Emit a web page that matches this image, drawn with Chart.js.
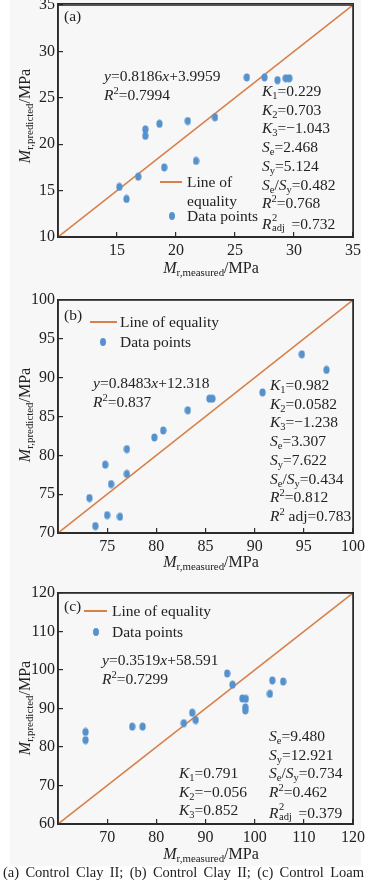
<!DOCTYPE html>
<html>
<head>
<meta charset="utf-8">
<script src="https://cdn.jsdelivr.net/npm/chart.js@4/dist/chart.umd.min.js"></script>
<style>
  body { margin: 0; width: 369px; height: 884px; background: #fff; position: relative; overflow: hidden;
         font-family: 'Liberation Serif', 'Times New Roman', serif; color: #222; }
  .bg { position: absolute; left: 10px; top: 0; width: 351px; height: 866px; background: #f7f7f7; }
  canvas { position: absolute; left: 0; }
  .box { position: absolute; box-sizing: border-box; border: 1.6px solid #2b2b2b; left: 57px; width: 297px; }
  .t { position: absolute; font-size: 15.5px; line-height: 18.7px; white-space: nowrap; }
  .t i { font-style: italic; }
  sub { font-size: 0.68em; vertical-align: -0.3em; line-height: 0; }
  sup { font-size: 0.68em; vertical-align: 0.55em; line-height: 0; }
  .ss { display: inline-block; position: relative; width: 1.3em; height: 1em; vertical-align: baseline; }
  .ss span { position: absolute; left: 0.05em; font-size: 0.68em; line-height: 1; }
  .ss .a { top: 0; }
  .ss .b { top: 0.95em; }
  .ytitle { position: absolute; font-size: 16px; white-space: nowrap; transform: translate(-50%, -50%) rotate(-90deg); }
  .xtitle { position: absolute; font-size: 16px; white-space: nowrap; transform: translate(-50%, -50%); }
  .lg-line { position: absolute; height: 2px; background: #d9804a; }
  .lg-dot { position: absolute; width: 6px; height: 8px; border-radius: 50%; background: #5591cc; }
  .cap { position: absolute; left: 3px; top: 864px; width: 361px; font-size: 14.5px; text-align: justify; text-align-last: justify; white-space: nowrap; }
</style>
</head>
<body>
<div class="bg"></div>
<canvas id="chartA" width="369" height="285" style="top:0px"></canvas>
<canvas id="chartB" width="369" height="285" style="top:290px"></canvas>
<canvas id="chartC" width="369" height="285" style="top:580px"></canvas>
<div class="box" style="top:3px;height:235px"></div>
<div class="box" style="top:299px;height:235px"></div>
<div class="box" style="top:592px;height:233px"></div>

<!-- panel (a) -->
<div class="t" style="left:64px;top:7px">(a)</div>
<div class="t" style="left:104px;top:67px"><i>y</i>=0.8186<i>x</i>+3.9959<br><i>R</i><sup>2</sup>=0.7994</div>
<div class="lg-line" style="left:160px;top:181px;width:22px"></div>
<div class="t" style="left:187px;top:173px">Line of<br>equality</div>
<div class="lg-dot" style="left:169px;top:212px"></div>
<div class="t" style="left:187px;top:207px">Data points</div>
<div class="t" style="left:262px;top:82px">
  <i>K</i><sub>1</sub>=0.229<br><i>K</i><sub>2</sub>=0.703<br><i>K</i><sub>3</sub>=&minus;1.043<br>
  <i>S</i><sub>e</sub>=2.468<br><i>S</i><sub>y</sub>=5.124<br><i>S</i><sub>e</sub>/<i>S</i><sub>y</sub>=0.482<br>
  <i>R</i><sup>2</sup>=0.768<br><i>R</i><span class="ss"><span class="a">2</span><span class="b">adj</span></span>=0.732</div>
<div class="ytitle" style="left:25px;top:116px"><i>M</i><sub>r,predicted</sub>/MPa</div>
<div class="xtitle" style="left:211px;top:268px"><i>M</i><sub>r,measured</sub>/MPa</div>

<!-- panel (b) -->
<div class="t" style="left:64px;top:306px">(b)</div>
<div class="lg-line" style="left:90px;top:321px;width:27px"></div>
<div class="t" style="left:120px;top:313px">Line of equality</div>
<div class="lg-dot" style="left:100px;top:338px"></div>
<div class="t" style="left:120px;top:333px">Data points</div>
<div class="t" style="left:93px;top:374px"><i>y</i>=0.8483<i>x</i>+12.318<br><i>R</i><sup>2</sup>=0.837</div>
<div class="t" style="left:270px;top:376px">
  <i>K</i><sub>1</sub>=0.982<br><i>K</i><sub>2</sub>=0.0582<br><i>K</i><sub>3</sub>=&minus;1.238<br>
  <i>S</i><sub>e</sub>=3.307<br><i>S</i><sub>y</sub>=7.622<br><i>S</i><sub>e</sub>/<i>S</i><sub>y</sub>=0.434<br>
  <i>R</i><sup>2</sup>=0.812<br><i>R</i><sup>2</sup> adj=0.783</div>
<div class="ytitle" style="left:25px;top:415px"><i>M</i><sub>r,predicted</sub>/MPa</div>
<div class="xtitle" style="left:211px;top:562px"><i>M</i><sub>r,measured</sub>/MPa</div>

<!-- panel (c) -->
<div class="t" style="left:64px;top:597px">(c)</div>
<div class="lg-line" style="left:84px;top:610px;width:23px"></div>
<div class="t" style="left:112px;top:602px">Line of equality</div>
<div class="lg-dot" style="left:93px;top:628px"></div>
<div class="t" style="left:112px;top:623px">Data points</div>
<div class="t" style="left:102px;top:651px"><i>y</i>=0.3519<i>x</i>+58.591<br><i>R</i><sup>2</sup>=0.7299</div>
<div class="t" style="left:269px;top:727px">
  <i>S</i><sub>e</sub>=9.480<br><i>S</i><sub>y</sub>=12.921<br><i>S</i><sub>e</sub>/<i>S</i><sub>y</sub>=0.734<br>
  <i>R</i><sup>2</sup>=0.462<br><i>R</i><span class="ss"><span class="a">2</span><span class="b">adj</span></span>=0.379</div>
<div class="t" style="left:179px;top:764px">
  <i>K</i><sub>1</sub>=0.791<br><i>K</i><sub>2</sub>=&minus;0.056<br><i>K</i><sub>3</sub>=0.852</div>
<div class="ytitle" style="left:25px;top:708px"><i>M</i><sub>r,predicted</sub>/MPa</div>
<div class="xtitle" style="left:211px;top:854px"><i>M</i><sub>r,measured</sub>/MPa</div>

<div class="cap">(a) Control Clay II; (b) Control Clay II; (c) Control Loam</div>

<script>
// (a) Control Clay II
const measuredA  = [15.2, 15.8, 16.8, 17.4, 17.4, 18.6, 19.0, 21.0, 21.7, 23.3, 26.0, 27.5, 28.6, 29.3, 29.6];
const predictedA = [15.4, 14.1, 16.5, 21.6, 20.9, 22.2, 17.5, 22.5, 18.2, 22.9, 27.2, 27.2, 26.9, 27.1, 27.1];
const xTicksA = [15, 20, 25, 30, 35];
const yTicksA = [10, 15, 20, 25, 30, 35];

// (b) Control Clay II
const measuredB  = [73.2, 73.8, 74.8, 75.0, 75.4, 76.3, 77.0, 77.0, 79.8, 80.7, 83.2, 85.4, 85.7, 90.8, 94.8, 97.3];
const predictedB = [74.5, 70.9, 78.8, 72.3, 76.3, 72.1, 80.8, 77.6, 82.3, 83.2, 85.8, 87.3, 87.3, 88.1, 93.0, 91.0];
const xTicksB = [75, 80, 85, 90, 95, 100];
const yTicksB = [70, 75, 80, 85, 90, 95, 100];

// (c) Control Loam
const measuredC  = [65.6, 65.6, 75.1, 77.2, 85.6, 87.3, 88.0, 94.4, 95.5, 97.5, 98.2, 98.1, 98.1, 103.1, 103.6, 105.8];
const predictedC = [83.9, 81.8, 85.3, 85.3, 86.2, 88.9, 87.0, 99.1, 96.2, 92.6, 92.5, 90.3, 89.5, 93.8, 97.3, 97.0];
const xTicksC = [70, 80, 90, 100, 110, 120];
const yTicksC = [60, 70, 80, 90, 100, 110, 120];

const blue = '#5591cc';
const orange = '#d9804a';
const axisColor = '#2b2b2b';

// small upright ellipse used as point marker
const dot = document.createElement('canvas');
dot.width = 7; dot.height = 9;
const dctx = dot.getContext('2d');
dctx.fillStyle = blue;
dctx.beginPath();
dctx.ellipse(3.5, 4.5, 3.1, 4.1, 0, 0, Math.PI * 2);
dctx.fill();

// frame round the plot area
const boxFrame = {
  id: 'boxFrame',
  afterDraw(chart) {
    const ctx = chart.ctx, a = chart.chartArea;
    ctx.save();
    ctx.strokeStyle = axisColor;
    ctx.lineWidth = 1.6;
    ctx.strokeRect(a.left, a.top, a.right - a.left, a.bottom - a.top);
    ctx.restore();
  }
};

function makeChart(id, xs, ys, xTicks, yTicks, top, bottom) {
  const lo = yTicks[0], hi = yTicks[yTicks.length - 1];
  const h = 285;
  const tickFont = { family: "'Liberation Serif', serif", size: 16 };
  // negative tick length puts the short tick marks inside the frame
  const inwardTicks = { display: true, drawOnChartArea: false, drawTicks: true, tickLength: -5, color: axisColor, lineWidth: 1.2 };

  return new Chart(document.getElementById(id), {
    type: 'scatter',
    data: {
      datasets: [{
        label: 'Data points',
        data: xs.map((v, i) => ({ x: v, y: ys[i] })),
        pointStyle: dot,
        order: 0,
      }, {
        label: 'Line of equality',
        data: [{ x: lo, y: lo }, { x: hi, y: hi }],
        showLine: true,
        borderColor: orange,
        borderWidth: 1.6,
        pointRadius: 0,
        order: 1,
      }]
    },
    options: {
      responsive: false,
      animation: false,
      layout: { padding: { left: 0, right: 16, top: top, bottom: 0 } },
      plugins: { legend: { display: false }, tooltip: { enabled: false } },
      scales: {
        x: {
          min: lo, max: hi,
          grid: inwardTicks,
          border: { display: true, color: axisColor, width: 1.6 },
          ticks: { font: tickFont, color: '#222', padding: 9 },
          afterBuildTicks: s => { s.ticks = xTicks.map(v => ({ value: v })); },
          afterFit: s => { s.height = h - bottom; s.paddingLeft = 0; s.paddingRight = 0; },
        },
        y: {
          min: lo, max: hi,
          grid: inwardTicks,
          border: { display: true, color: axisColor, width: 1.6 },
          ticks: { font: tickFont, color: '#222', padding: 8 },
          afterBuildTicks: s => { s.ticks = yTicks.map(v => ({ value: v })); },
          afterFit: s => { s.width = 58; s.paddingTop = 0; s.paddingBottom = 0; },
        }
      }
    },
    plugins: [boxFrame]
  });
}

makeChart('chartA', measuredA, predictedA, xTicksA, yTicksA, 4, 237);
makeChart('chartB', measuredB, predictedB, xTicksB, yTicksB, 10, 243);
makeChart('chartC', measuredC, predictedC, xTicksC, yTicksC, 13, 244);
</script>
</body>
</html>
